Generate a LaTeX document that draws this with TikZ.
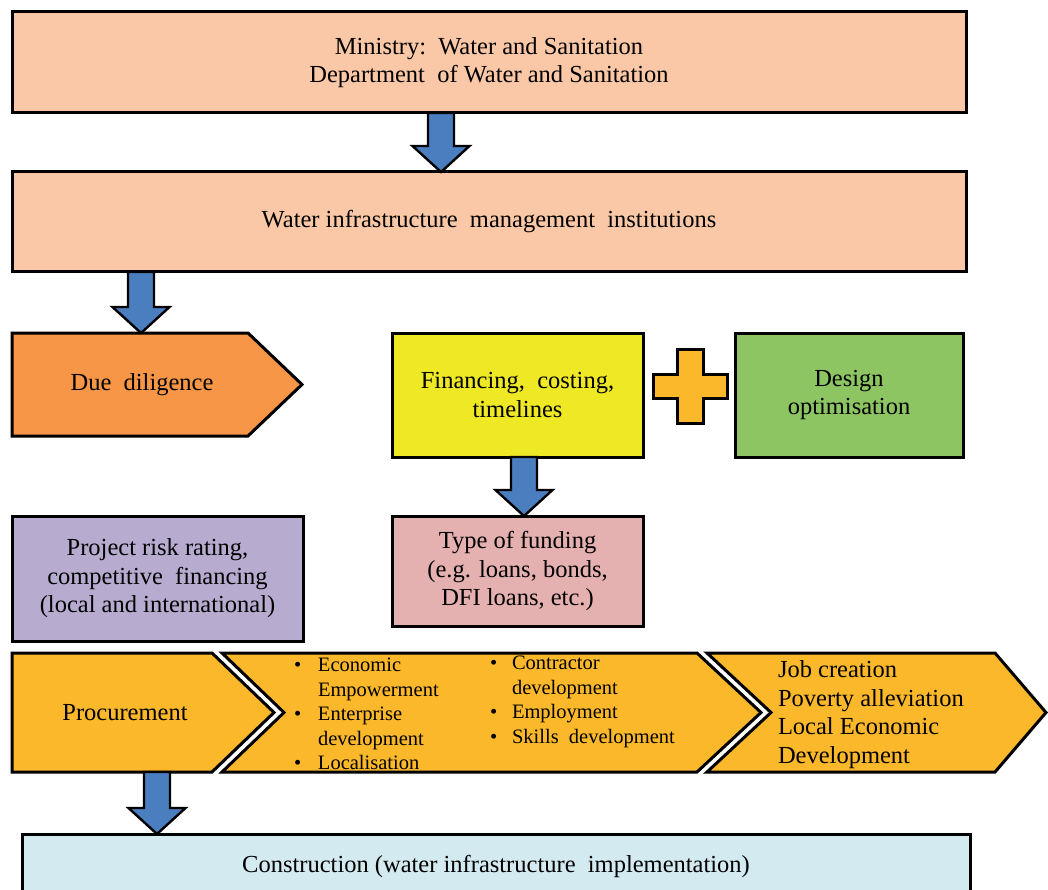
\documentclass[tikz,border=0pt]{standalone}
\usepackage{fontspec}
\setmainfont{Liberation Serif}
\usetikzlibrary{calc}
\definecolor{peach}{HTML}{FAC8A6}
\definecolor{dueorange}{HTML}{F79646}
\definecolor{finyellow}{HTML}{EFE925}
\definecolor{desgreen}{HTML}{8CC562}
\definecolor{gold}{HTML}{FBB82A}
\definecolor{fundpink}{HTML}{E5B1B0}
\definecolor{risklav}{HTML}{B7ACCF}
\definecolor{conblue}{HTML}{D3EAF1}
\definecolor{arrblue}{HTML}{4A7EBF}
\newcommand{\mainfnt}{\fontsize{24.5}{28.5}\selectfont}
\newcommand{\smallfnt}{\fontsize{20.5}{24.5}\selectfont}
\tikzset{
  box/.style={draw=black, line width=3pt, inner sep=0pt, outer sep=0pt, align=center, font=\mainfnt},
  shp/.style={draw=black, line width=3pt, line join=miter},
  anch/.style={inner sep=0pt, outer sep=0pt, align=center, font=\mainfnt},
  barrow/.style={draw=black, line width=2.4pt, fill=arrblue, line join=miter},
  txt/.style={inner sep=0pt, outer sep=0pt, align=left}
}
\newcommand{\blockarr}[3]{%
  \draw[barrow] let \p1=(#2.south), \p2=(#3.north) in
    (#1pt-13pt,\y1) -- (#1pt+13pt,\y1) -- (#1pt+13pt,\y2+26pt) -- (#1pt+28.5pt,\y2+26pt)
    -- (#1pt,\y2) -- (#1pt-28.5pt,\y2+26pt) -- (#1pt-13pt,\y2+26pt) -- cycle;}
\begin{document}
\begin{tikzpicture}[x=1pt, y=-1pt]
\path[use as bounding box, clip] (0,0) rectangle (1048,890);
\fill[white] (0,0) rectangle (1048,890);

% top boxes
\node[box, fill=peach, minimum width=954pt, minimum height=101pt] (m1) at (489,62.5)
  {Ministry:\ \ Water and Sanitation\\Department\ \ of Water and Sanitation};
\node[box, fill=peach, minimum width=954pt, minimum height=100pt] (m2) at (489,222)
  {Water infrastructure\ \ management\ \ institutions};

% due diligence
\draw[shp, fill=dueorange] (12,333) -- (248,333) -- (302,384.5) -- (248,436) -- (12,436) -- cycle;
\node[anch, minimum width=200pt, minimum height=103pt] (due) at (142,384.5) {Due\ \ diligence};

% financing, plus, design
\node[box, fill=finyellow, minimum width=251pt, minimum height=124pt] (fin) at (517.5,395)
  {Financing,\ \ costing,\\timelines};
\draw[shp, fill=gold] (677,349) -- (703,349) -- (703,374) -- (727,374) -- (727,398) -- (703,398)
  -- (703,423) -- (677,423) -- (677,398) -- (653,398) -- (653,374) -- (677,374) -- cycle;
\node[box, fill=desgreen, minimum width=228pt, minimum height=124pt] (des) at (849,395)
  {Design\\optimisation};

% risk and funding
\node[box, fill=risklav, minimum width=291pt, minimum height=125pt] (risk) at (157.5,578.5)
  {Project risk rating,\\competitive\ \ financing\\(local and international)};
\node[box, fill=fundpink, minimum width=251pt, minimum height=110pt] (fund) at (517.5,571)
  {Type of funding\\(e.g. loans, bonds,\\DFI loans, etc.)};

% chevrons
\draw[shp, fill=gold] (12,653) -- (212,653) -- (274,712.5) -- (212,772) -- (12,772) -- cycle;
\draw[shp, fill=gold] (222,653) -- (697,653) -- (761,712.5) -- (697,772) -- (222,772) -- (284,712.5) -- cycle;
\draw[shp, fill=gold] (707,653) -- (995,653) -- (1046,712.5) -- (995,772) -- (707,772) -- (771,712.5) -- cycle;
\node[anch, minimum width=190pt, minimum height=119pt] (proc) at (125,712.5) {Procurement};
\node[txt, anchor=west, font=\smallfnt] (col1) at (294,714)
  {\makebox[24pt][l]{\textbullet}Economic\\\hspace*{24pt}Empowerment\\
   \makebox[24pt][l]{\textbullet}Enterprise\\\hspace*{24pt}development\\
   \makebox[24pt][l]{\textbullet}Localisation};
\node[txt, anchor=west, font=\smallfnt] (col2) at (490,702)
  {\makebox[22pt][l]{\textbullet}Contractor\\\hspace*{22pt}development\\
   \makebox[22pt][l]{\textbullet}Employment\\
   \makebox[22pt][l]{\textbullet}Skills\ \ development};
\node[txt, anchor=west, font=\mainfnt] (res) at (778,714.5)
  {Job creation\\Poverty alleviation\\Local Economic\\Development};

% construction
\node[box, fill=conblue, minimum width=948pt, minimum height=64pt] (cons) at (496,866)
  {Construction (water infrastructure\ \ implementation)};

% block arrows
\blockarr{441}{m1}{m2}
\blockarr{141}{m2}{due}
\blockarr{524}{fin}{fund}
\blockarr{157}{proc}{cons}
\end{tikzpicture}
\end{document}
